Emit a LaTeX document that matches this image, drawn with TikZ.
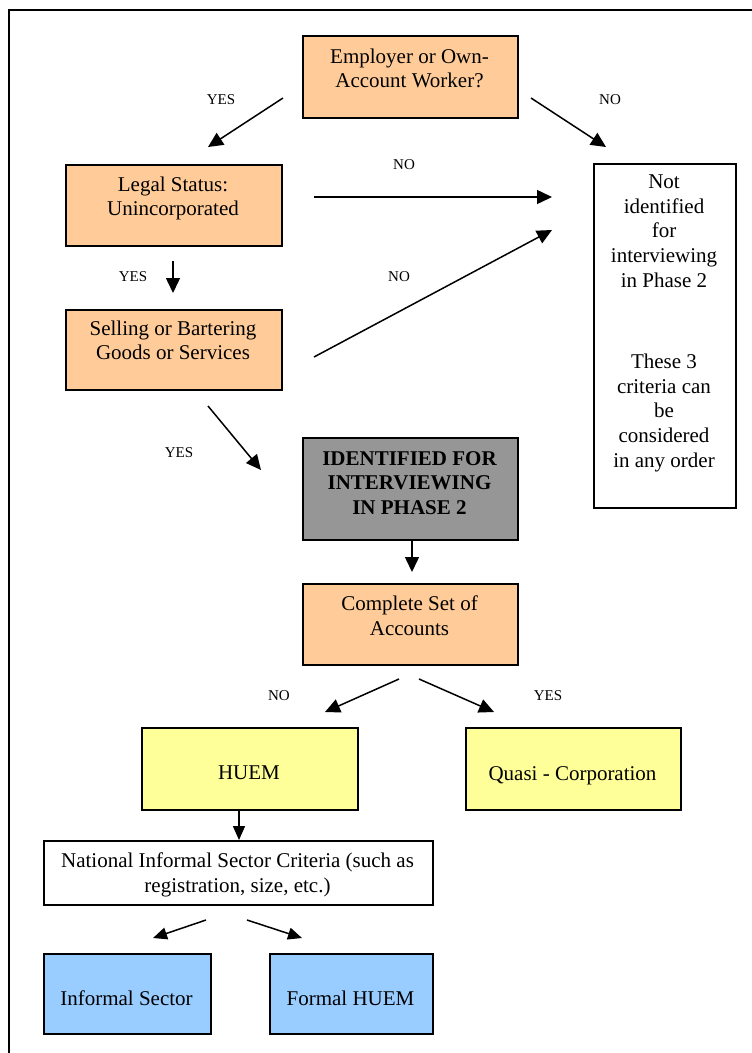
\documentclass[tikz,border=0pt]{standalone}
\usepackage{fontspec}
\setmainfont{Liberation Serif}
\usetikzlibrary{arrows.meta}
\definecolor{boxorange}{HTML}{FFCC99}
\definecolor{boxgray}{HTML}{969696}
\definecolor{boxyellow}{HTML}{FFFF99}
\definecolor{boxblue}{HTML}{99CCFF}
\tikzset{
  box/.style={draw=black, line width=1.6pt, inner sep=0pt, anchor=north west},
  txt/.style={align=center, inner sep=0pt, anchor=north, font=\fontsize{21}{24.7}\selectfont},
  lbl/.style={inner sep=0pt, font=\fontsize{15}{18}\selectfont},
  arr/.style={line width=1.5pt, -{Triangle[length=15pt,width=14pt]}},
  sarr/.style={line width=1.5pt, -{Triangle[length=14pt,width=12pt]}}
}
\begin{document}
\begin{tikzpicture}[x=1pt,y=-1pt]
\useasboundingbox (0,0) rectangle (752,1053);
% frame
\draw[line width=1.8pt] (9,1070) -- (9,10) -- (770,10);
% boxes
\node[box, fill=boxorange, minimum width=215pt, minimum height=82pt] (emp) at (302,35) {};
\node[box, fill=boxorange, minimum width=216pt, minimum height=81pt] (legal) at (65,164) {};
\node[box, fill=boxorange, minimum width=216pt, minimum height=80pt] (sell) at (65,309) {};
\node[box, fill=white, minimum width=142pt, minimum height=344pt] (notid) at (593,163) {};
\node[box, fill=boxgray, minimum width=215pt, minimum height=102pt] (ident) at (302,437) {};
\node[box, fill=boxorange, minimum width=215pt, minimum height=81pt] (comp) at (302,583) {};
\node[box, fill=boxyellow, minimum width=216pt, minimum height=82pt] (huem) at (141,727) {};
\node[box, fill=boxyellow, minimum width=215pt, minimum height=82pt] (quasi) at (465,727) {};
\node[box, fill=white, minimum width=389pt, minimum height=64pt] (natl) at (43,840) {};
\node[box, fill=boxblue, minimum width=167pt, minimum height=80pt] (inf) at (43,953) {};
\node[box, fill=boxblue, minimum width=163pt, minimum height=80pt] (form) at (269,953) {};
% texts
\node[txt] (empt) at (409.5,48.5) {Employer or Own-\\Account Worker?};
\node[txt] (legalt) at (173,176.5) {Legal Status:\\Unincorporated};
\node[txt] (sellt) at (173,320.5) {Selling or Bartering\\Goods or Services};
\node[txt] (notidt) at (664,174.5) {Not\\identified\\for\\interviewing\\in Phase 2};
\node[txt] (critt) at (664,353.6) {These 3\\criteria can\\be\\considered\\in any order};
\node[txt, font=\fontsize{21}{24.7}\selectfont\bfseries] (identt) at (409.5,451) {IDENTIFIED FOR\\INTERVIEWING\\IN PHASE 2};
\node[txt] (compt) at (409.5,595.7) {Complete Set of\\Accounts};
\node[txt] (huemt) at (249,766) {HUEM};
\node[txt] (quasit) at (572.5,766) {Quasi - Corporation};
\node[txt] (natlt) at (237.5,852.7) {National Informal Sector Criteria (such as\\registration, size, etc.)};
\node[txt] (inft) at (126.5,990.7) {Informal Sector};
\node[txt] (formt) at (350.5,990.7) {Formal HUEM};
% labels
\node[lbl] (y1) at (221,100) {YES};
\node[lbl] (n1) at (610,100) {NO};
\node[lbl] (n2) at (404,165) {NO};
\node[lbl] (y2) at (133,277) {YES};
\node[lbl] (n3) at (399,277) {NO};
\node[lbl] (y3) at (179,453) {YES};
\node[lbl] (n4) at (279,696) {NO};
\node[lbl] (y4) at (548,696) {YES};
% arrow end points
\coordinate (a1s) at (283,98);  \coordinate (a1e) at (208,147);
\coordinate (a2s) at (531,98);  \coordinate (a2e) at (606,147);
\coordinate (a3s) at (314,197); \coordinate (a3e) at (552,197);
\coordinate (a4s) at (173,261); \coordinate (a4e) at (173,293);
\coordinate (a5s) at (314,357); \coordinate (a5e) at (552,230);
\coordinate (a6s) at (208,406); \coordinate (a6e) at (261,470);
\coordinate (a7s) at (412,540); \coordinate (a7e) at (412,572);
\coordinate (a8s) at (399,679); \coordinate (a8e) at (325,712);
\coordinate (a9s) at (419,679); \coordinate (a9e) at (494,712);
\coordinate (a10s) at (239,809); \coordinate (a10e) at (239,840);
\coordinate (a11s) at (206,920); \coordinate (a11e) at (153,938);
\coordinate (a12s) at (247,920); \coordinate (a12e) at (302,938);
% arrows
\draw[arr] (a1s) -- (a1e);
\draw[arr] (a2s) -- (a2e);
\draw[arr] (a3s) -- (a3e);
\draw[arr] (a4s) -- (a4e);
\draw[arr] (a5s) -- (a5e);
\draw[arr] (a6s) -- (a6e);
\draw[arr] (a7s) -- (a7e);
\draw[arr] (a8s) -- (a8e);
\draw[arr] (a9s) -- (a9e);
\draw[sarr] (a10s) -- (a10e);
\draw[sarr] (a11s) -- (a11e);
\draw[sarr] (a12s) -- (a12e);
\end{tikzpicture}
\end{document}
